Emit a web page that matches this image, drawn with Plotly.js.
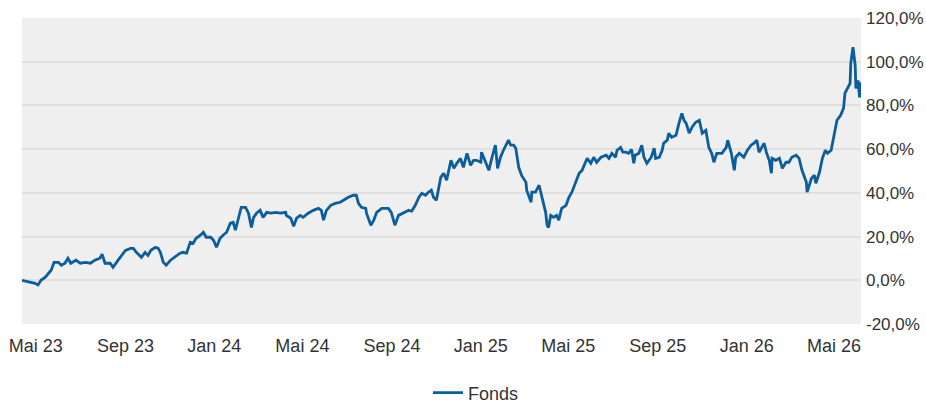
<!DOCTYPE html>
<html>
<head>
<meta charset="utf-8">
<script src="https://cdn.plot.ly/plotly-3.0.1.min.js"></script>
<style>
  html, body { margin: 0; padding: 0; background: #ffffff; }
  #chart { width: 926px; height: 403px; }
</style>
</head>
<body>
<div id="chart"></div>
<script>
// Series start date; offsets below are days since this date
const startDate = '2023-04-12';

const dayOffsets = [
  0, 8, 14, 18, 22, 26, 32, 36, 40, 44, 50, 54, 59, 63, 67, 74, 80, 87, 94, 100,
  107, 110, 114, 121, 125, 132, 142, 149, 153, 157, 164, 169, 173, 177, 183, 187, 190, 194, 198, 204,
  208, 212, 217, 221, 226, 231, 235, 239, 245, 249, 253, 259, 263, 267, 272, 276, 281, 286, 290, 293,
  297, 301, 307, 311, 315, 318, 322, 327, 331, 336, 342, 348, 355, 362, 363, 369, 373, 377, 382, 386,
  393, 400, 407, 411, 414, 418, 424, 430, 437, 441, 448, 455, 459, 462, 466, 472, 473, 479, 483, 487,
  494, 499, 503, 507, 512, 517, 524, 531, 535, 540, 545, 549, 554, 558, 562, 565, 569, 575, 579, 583,
  589, 593, 597, 602, 606, 611, 616, 620, 624, 630, 631, 637, 641, 645, 650, 653, 657, 661, 664, 668,
  671, 675, 678, 682, 686, 692, 693, 699, 700, 705, 710, 712, 716, 719, 721, 723, 726, 730, 734, 737,
  741, 747, 751, 755, 760, 765, 769, 774, 776, 781, 785, 789, 795, 802, 806, 810, 815, 817, 822, 825,
  829, 833, 837, 840, 842, 847, 851, 854, 858, 864, 868, 870, 875, 879, 881, 886, 888, 892, 898, 902,
  906, 909, 912, 916, 920, 925, 930, 934, 939, 943, 947, 950, 954, 961, 967, 969, 974, 978, 980, 985,
  991, 996, 1001, 1005, 1009, 1012, 1016, 1019, 1022, 1026, 1029, 1030, 1035, 1040, 1044, 1049, 1053, 1057, 1063, 1067,
  1071, 1077, 1078, 1084, 1088, 1090, 1095, 1099, 1103, 1106, 1111, 1115, 1119, 1124, 1128, 1130, 1134, 1137, 1138, 1141,
  1144, 1145, 1148, 1150, 1151
];

const fondsValues = [
  0, -0.5, -0.9, -1.4, -2.1, 0, 1.4, 3.2, 4.6, 8.2, 8.2, 6.9, 7.8, 10.1, 7.8, 9.2, 7.8, 8.2, 7.8, 9.2,
  10.1, 11.9, 7.8, 7.8, 5.9, 9.2, 13.7, 14.6, 14.6, 12.8, 10.5, 12.8, 11.4, 13.7, 15.1, 14.6, 12.8, 8.2, 6.9, 9.2,
  10.1, 11.4, 12.4, 12.8, 12.4, 17.4, 16.9, 19.2, 20.6, 22.0, 19.7, 19.7, 18.3, 15.1, 19.2, 20.6, 22.0, 26.1, 26.5, 22.9,
  28.8, 33.4, 33.4, 30.7, 24.2, 28.8, 30.7, 32.0, 28.8, 31.1, 30.7, 31.1, 30.7, 31.1, 29.7, 28.4, 24.7, 28.4, 29.7, 28.8,
  30.7, 32.0, 32.9, 32.0, 27.5, 32.0, 34.3, 35.2, 35.7, 36.6, 38.0, 38.9, 38.9, 35.2, 33.4, 32.9, 30.7, 25.2, 27.5, 31.1,
  32.9, 32.9, 32.9, 31.1, 25.2, 29.7, 30.7, 32.0, 31.6, 34.3, 38.0, 39.8, 38.9, 40.3, 41.2, 38.0, 36.6, 47.1, 49.0, 45.8,
  54.9, 51.2, 53.5, 55.8, 51.7, 58.1, 52.6, 54.9, 54.9, 54.0, 58.6, 53.5, 50.3, 55.8, 61.8, 51.2, 56.3, 59.5, 61.8, 64.1,
  61.8, 61.8, 60.4, 51.7, 48.0, 44.8, 41.2, 35.7, 40.3, 40.3, 43.5, 40.3, 35.2, 31.1, 25.2, 24.2, 29.7, 28.8, 29.7, 27.5,
  32.9, 34.3, 38.0, 40.3, 44.8, 49.0, 50.3, 54.0, 55.8, 53.5, 56.3, 54.0, 56.3, 57.2, 55.8, 58.1, 56.3, 59.5, 60.8, 58.6,
  58.6, 58.1, 59.9, 53.5, 57.2, 58.1, 61.8, 56.3, 53.5, 56.3, 60.4, 55.8, 56.3, 59.5, 62.7, 64.1, 67.3, 65.4, 66.3, 71.8,
  76.4, 73.2, 71.8, 67.3, 70.0, 72.3, 73.2, 67.3, 68.6, 60.8, 58.1, 54.0, 58.1, 58.1, 60.8, 64.1, 58.1, 50.3, 56.3, 58.1,
  56.3, 59.5, 61.8, 62.7, 64.1, 58.6, 60.8, 62.7, 58.6, 54.9, 49.0, 55.8, 54.9, 55.8, 51.2, 54.0, 54.0, 56.3, 57.2, 55.8,
  50.3, 44.8, 40.3, 46.7, 48.0, 44.4, 49.4, 55.8, 59.5, 58.1, 59.5, 66.3, 73.2, 75.5, 78.7, 85.6, 88.3, 90.1, 99.3, 106.6,
  98.4, 87.8, 91.5, 83.7, 90.6
];

const tickDates = ['2023-05-01', '2023-09-01', '2024-01-01', '2024-05-01', '2024-09-01',
                   '2025-01-01', '2025-05-01', '2025-09-01', '2026-01-01', '2026-05-01'];
const tickLabels = ['Mai 23', 'Sep 23', 'Jan 24', 'Mai 24', 'Sep 24',
                    'Jan 25', 'Mai 25', 'Sep 25', 'Jan 26', 'Mai 26'];
const yTicks = [-20, 0, 20, 40, 60, 80, 100, 120];
const yTickLabels = ['-20,0%', '0,0%', '20,0%', '40,0%', '60,0%', '80,0%', '100,0%', '120,0%'];
const seriesName = 'Fonds';
const rangeEnd = '2026-06-07';

const base = Date.parse(startDate + 'T00:00:00Z');
const xDates = dayOffsets.map(d => new Date(base + d * 86400000).toISOString().slice(0, 10));

const trace = {
  x: xDates,
  y: fondsValues,
  type: 'scatter',
  mode: 'lines',
  name: seriesName,
  line: { color: '#0c5d9b', width: 2.8 },
  hoverinfo: 'skip'
};

const layout = {
  width: 926,
  height: 403,
  margin: { l: 22, r: 65, t: 18, b: 79 },
  paper_bgcolor: '#ffffff',
  plot_bgcolor: '#efefef',
  font: { family: '"Liberation Sans", Arial, sans-serif', size: 17, color: '#333333' },
  showlegend: true,
  legend: {
    orientation: 'h',
    xref: 'container', yref: 'container',
    x: 0.514, xanchor: 'center',
    y: 0.025, yanchor: 'middle',
    font: { size: 18, color: '#333333' }
  },
  xaxis: {
    type: 'date',
    range: [startDate, rangeEnd],
    tickmode: 'array',
    tickvals: tickDates,
    ticktext: tickLabels,
    tickfont: { size: 18 },
    showgrid: false,
    zeroline: false,
    showline: false,
    ticks: '',
    ticklabelstandoff: 9,
    automargin: false,
    fixedrange: true
  },
  yaxis: {
    side: 'right',
    range: [-20, 120],
    tickmode: 'array',
    tickvals: yTicks,
    ticktext: yTickLabels,
    tickfont: { size: 17 },
    showgrid: true,
    gridcolor: '#e0e0e0',
    gridwidth: 2,
    zeroline: false,
    showline: false,
    ticks: '',
    ticklabelstandoff: 4,
    automargin: false,
    fixedrange: true
  }
};

Plotly.newPlot('chart', [trace], layout, { displayModeBar: false, staticPlot: true });
</script>
</body>
</html>
